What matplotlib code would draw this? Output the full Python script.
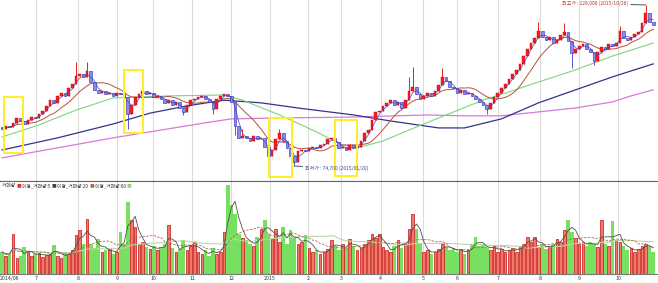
import numpy as np
import pandas as pd
import matplotlib
matplotlib.use('Agg')
import matplotlib.pyplot as plt
from matplotlib.offsetbox import TextArea, HPacker, AnchoredOffsetbox

plt.rcParams['font.family'] = ['Noto Sans CJK KR', 'DejaVu Sans']

# ---- data (prices in thousand won, one candle = two trading days) ----
first_open = 87.5
closes = [
    87.0, 88.0, 87.5, 89.0, 90.5, 89.5, 88.5, 90.0, 91.0, 90.5,
    92.0, 93.0, 94.5, 96.5, 95.5, 98.0, 99.0, 98.0, 100.5, 102.0,
    104.5, 105.0, 104.0, 106.0, 102.5, 100.0, 99.0, 99.5, 98.5, 99.0,
    98.0, 99.0, 98.5, 97.5, 92.0, 95.0, 97.5, 98.5, 99.5, 98.5,
    99.0, 97.5, 98.0, 97.0, 95.5, 96.5, 95.0, 96.0, 94.0, 92.5,
    95.0, 96.5, 97.0, 97.5, 98.0, 97.0, 96.0, 93.5, 97.0, 98.0,
    98.5, 98.0, 96.0, 88.0, 84.0, 84.5, 84.0, 83.0, 84.5, 83.5,
    84.0, 81.0, 78.0, 80.0, 83.5, 85.5, 83.0, 80.5, 78.0, 76.0,
    79.5, 80.0, 79.5, 80.5, 81.0, 80.5, 81.5, 82.0, 83.5, 84.0,
    82.5, 80.5, 81.0, 80.0, 81.5, 80.5, 81.0, 83.0, 85.5, 86.5,
    90.0, 92.5, 93.0, 94.5, 95.5, 96.5, 95.0, 96.0, 94.0, 96.5,
    99.5, 101.0, 98.5, 97.0, 98.0, 99.0, 98.0, 99.5, 101.5, 104.0,
    103.0, 101.0, 100.5, 99.0, 100.0, 98.5, 99.0, 98.0, 97.0, 96.0,
    95.0, 93.5, 95.5, 97.5, 99.0, 100.5, 102.0, 103.5, 105.0, 106.5,
    108.5, 111.0, 113.5, 115.5, 117.0, 119.5, 117.5, 116.5, 117.5, 115.5,
    116.5, 118.0, 119.0, 116.0, 112.0, 113.5, 114.5, 115.0, 113.5, 112.5,
    109.5, 112.5, 114.0, 113.5, 115.0, 114.5, 115.5, 119.5, 117.0, 116.5,
    117.5, 118.5, 119.0, 122.0, 125.5, 122.5, 121.5,
]
# wick extremes that stick out of the bodies
wick_high = {20: 109.0, 23: 109.0, 65: 87.0, 75: 87.0, 110: 104.0, 111: 107.5,
             119: 107.0, 145: 122.5, 152: 122.0, 167: 121.0, 174: 128.0}
wick_low = {34: 87.0, 49: 91.5, 57: 92.0, 63: 85.0, 72: 76.0, 79: 74.7,
            131: 92.0, 154: 107.0, 160: 108.0}

volume = [
    22, 18, 20, 40, 16, 18, 27, 22, 18, 20,
    21, 17, 19, 20, 29, 18, 16, 22, 20, 24,
    39, 44, 30, 55, 30, 26, 35, 22, 24, 25,
    20, 22, 42, 30, 72, 54, 47, 30, 32, 27,
    25, 28, 24, 27, 30, 49, 26, 22, 25, 34,
    24, 28, 32, 22, 20, 24, 18, 26, 20, 22,
    42, 89, 69, 60, 40, 36, 34, 30, 28, 37,
    45, 54, 40, 35, 45, 32, 47, 30, 44, 36,
    30, 32, 39, 26, 22, 24, 20, 22, 25, 34,
    28, 24, 30, 26, 35, 28, 24, 26, 30, 34,
    40, 36, 40, 27, 24, 22, 28, 34, 26, 30,
    45, 60, 45, 30, 22, 24, 20, 22, 25, 30,
    27, 24, 26, 22, 25, 20, 24, 30, 37, 28,
    29, 26, 24, 29, 22, 25, 22, 24, 26, 22,
    28, 30, 37, 32, 37, 27, 30, 25, 28, 30,
    35, 32, 44, 54, 42, 36, 30, 32, 28, 32,
    30, 27, 54, 30, 28, 53, 34, 32, 28, 24,
    26, 22, 25, 28, 30, 27, 22,
]

# long moving averages (candle index, price)
ma_green_idx = [0, 10, 20, 30, 45, 60, 65, 75, 85, 92, 97, 103, 110, 118, 130, 137, 145, 155, 165, 176]
ma_green = [84.3, 88.3, 93.2, 97.2, 97.9, 98.2, 96.5, 91.6, 86.0, 81.6, 81.0, 83.0, 86.6, 90.6, 96.5, 99.2, 102.5, 106.5, 111.1, 115.4]
ma_navy_idx = [0, 15, 30, 40, 50, 60, 70, 80, 95, 105, 118, 125, 135, 145, 155, 165, 176]
ma_navy = [80.0, 84.0, 88.6, 92.2, 94.6, 96.5, 95.6, 93.9, 91.6, 89.6, 87.3, 87.3, 90.3, 95.6, 99.9, 104.2, 108.5]
ma_pink_idx = [0, 15, 30, 45, 55, 62, 75, 95, 115, 125, 135, 145, 155, 165, 170, 176]
ma_pink = [77.4, 80.7, 84.0, 87.0, 89.0, 90.3, 90.6, 90.9, 91.6, 91.3, 91.3, 92.6, 93.9, 95.9, 97.9, 99.9]

# month boundaries (candle index) and labels
month_pos = [-0.5, 9.2, 20.5, 31.1, 40.8, 51.4, 61.9, 72.4, 82.7, 91.6, 102.4, 113.8, 123.0, 134.0, 145.4, 155.9, 166.5]
month_lbl = ['2014/06', '7', '8', '9', '10', '11', '12', '2015', '2', '3', '4', '5', '6', '7', '8', '9', '10']

# highlighted zones: (index from, index to, price low, price high)
boxes = [(0.5, 5.7, 79.0, 97.5), (33.0, 38.1, 85.6, 106.5),
         (72.2, 78.4, 71.1, 90.6), (90.0, 96.0, 71.4, 89.9)]

# ---- derived ----
n = len(closes)
idx = np.arange(n)
c = np.array(closes)
o = np.array([first_open] + closes[:-1])
hi = np.maximum(o, c)
lo = np.minimum(o, c)
for k, v in wick_high.items():
    hi[k] = v
for k, v in wick_low.items():
    lo[k] = v
up = c >= o
s = pd.Series(c)
ma5 = s.rolling(3, min_periods=1).mean()
ma20 = s.rolling(10, min_periods=1).mean()
vs = pd.Series(volume, dtype=float)

fig = plt.figure(figsize=(6.58, 2.83), dpi=100)
ax1 = fig.add_axes([0, 1 - 181 / 283, 1, 181 / 283])
ax2 = fig.add_axes([0, 9 / 283, 1, 93 / 283])

xl = (-0.54, 177.3)
for ax in (ax1, ax2):
    ax.set_xlim(*xl)
    for p in month_pos[1:]:
        ax.axvline(p, color='#dcdcdc', lw=0.8, zorder=0)
    for side in ('left', 'right', 'top'):
        ax.spines[side].set_visible(False)
    ax.set_yticks([])

ax1.set_ylim(69.73, 129.65)
ax1.set_xticks([])
ax1.spines['bottom'].set_color('#666666')
ax1.spines['bottom'].set_linewidth(0.8)

# moving averages
ax1.plot(ma_pink_idx, ma_pink, color='#d77ad7', lw=0.9, zorder=2)
ax1.plot(ma_navy_idx, ma_navy, color='#33338a', lw=0.9, zorder=2)
ax1.plot(ma_green_idx, ma_green, color='#7fd47f', lw=0.8, zorder=2)
ax1.plot(idx, ma20, color='#b5523a', lw=0.7, zorder=3)

# candles
w = 0.75
ax1.vlines(idx[up], lo[up], hi[up], color='#e00000', lw=0.6, zorder=4)
ax1.vlines(idx[~up], lo[~up], hi[~up], color='#3a3ac8', lw=0.6, zorder=4)
body = np.maximum(np.abs(c - o), 0.25)
ax1.bar(idx[up], body[up], bottom=np.minimum(o, c)[up], width=w,
        color='#ff1a1a', edgecolor='#d00000', lw=0.3, zorder=5)
ax1.bar(idx[~up], body[~up], bottom=np.minimum(o, c)[~up], width=w,
        color='#8c8cee', edgecolor='#2c2cb8', lw=0.4, zorder=5)
ax1.plot(idx, ma5, color='#4848b8', lw=0.5, zorder=6)

for x0, x1, y0, y1 in boxes:
    ax1.add_patch(plt.Rectangle((x0, y0), x1 - x0, y1 - y0, fill=False,
                                edgecolor='#ffee22', lw=1.4, zorder=7))

ax1.annotate('최고가 : 128,000 (2015/10/28)', xy=(174, 128.0), xytext=(169.2, 128.4),
             ha='right', va='center', fontsize=3.6, color='#b03a3a',
             arrowprops=dict(arrowstyle='-', color='#333333', lw=0.6, shrinkA=0, shrinkB=0),
             annotation_clip=False, zorder=8)
ax1.annotate('최저가 : 74,700 (2015/01/20)', xy=(79, 74.7), xytext=(82.0, 74.0),
             ha='left', va='center', fontsize=3.6, color='#3a4c9a',
             arrowprops=dict(arrowstyle='-', color='#333333', lw=0.6, shrinkA=0, shrinkB=0),
             annotation_clip=False, zorder=8)

# volume
ax2.set_ylim(0, 93)
ax2.spines['top'].set_visible(True)
ax2.spines['top'].set_color('#666666')
ax2.spines['top'].set_linewidth(0.8)
ax2.spines['bottom'].set_color('#777777')
ax2.spines['bottom'].set_linewidth(0.8)
vol = np.array(volume, dtype=float)
ax2.bar(idx[~up], vol[~up], width=1.0, color='#78e060', lw=0, zorder=2)
ax2.bar(idx[up], vol[up], width=0.7, color='#f07a6a', edgecolor='#c81010', lw=0.5, zorder=3)
ax2.plot(idx, vs.rolling(30, min_periods=1).mean(), color='#b8d8a0', lw=0.8, zorder=4)
ax2.plot(idx, vs.rolling(10, min_periods=1).mean(), color='#b06a50', lw=0.6, ls=(0, (3, 1.5)), zorder=4)
ax2.plot(idx, vs.rolling(3, min_periods=1).mean(), color='#505050', lw=0.6, zorder=5)

ax2.set_xticks(month_pos)
ax2.set_xticklabels(month_lbl)
ax2.tick_params(axis='x', length=1.0, width=0.5, color='#888888', pad=0.3,
                labelsize=3.8, labelcolor='#333333')
ax2.get_xticklabels()[0].set_horizontalalignment('left')

fam = ['Noto Sans CJK KR', 'DejaVu Sans']
pieces = [('거래량 ', '#333333'), ('■', '#e03030'), (' 이평_거래량:5 ', '#333333'), ('■', '#444444'),
          (' 이평_거래량:20 ', '#333333'), ('■', '#b06a50'), (' 이평_거래량:60 ', '#333333'), ('■', '#9ccc88')]
box = HPacker(children=[TextArea(t, textprops=dict(color=col, size=3.4, family=fam)) for t, col in pieces],
              pad=0, sep=0, align='center')
ax2.add_artist(AnchoredOffsetbox(loc='upper left', child=box, pad=0, borderpad=0.15,
                                 frameon=False, bbox_to_anchor=(0, 1), bbox_transform=ax2.transAxes))

fig.savefig('out.png', dpi=100)
